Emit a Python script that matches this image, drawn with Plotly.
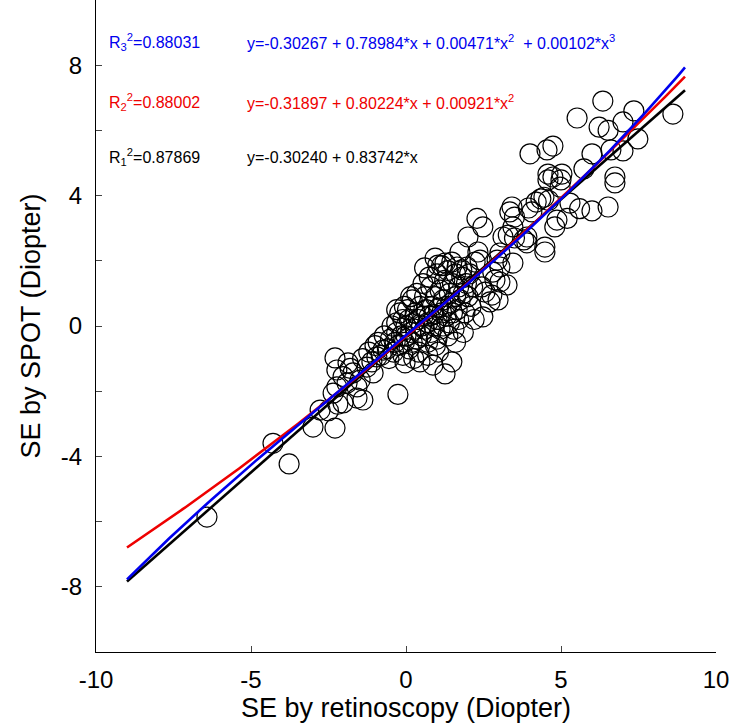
import plotly.graph_objects as go
import numpy as np

# ---- data ----
pts_upper_x = [6.35, 5.52, 7.35, 8.61, 6.23, 6.52, 7.0, 7.48, 7.0, 6.61, 6.0, 4.55, 4.74, 4.0, 5.74,
               4.58, 5.03, 4.58, 5.0, 4.74, 4.97, 6.74, 6.74, 6.0, 6.52, 5.29, 4.2, 4.45, 4.6, 4.35,
               4.06, 3.95, 3.35, 3.5, 3.42, 3.45, 3.3, 4.8, 4.87, 3.9, 3.9, 3.8, 4.48, 3.5, 3.13,
               2.29, 2.48, 2.0, 1.74, 2.32, 2.23, 2.39, 1.97, 2.94, 3.03, 3.45, 0.94, 0.6, 1.03, 1.26,
               1.48, 1.65, 1.8, 3.03, 2.8, 4.48, 3.26, 3.03, 2.97, 2.77, 2.71, 2.48, 2.45, 2.55, 2.87,
               0.87, 1.48, 1.26, 5.6, 5.2]
pts_upper_y = [6.9, 6.38, 6.6, 6.5, 6.1, 6.0, 6.26, 5.74, 5.37, 5.4, 5.28, 5.4, 5.52, 5.28, 4.82,
               4.66, 4.66, 4.48, 4.48, 4.57, 4.26, 4.57, 4.39, 3.53, 3.65, 3.77, 3.8, 3.95, 3.85, 3.9,
               3.5, 3.62, 3.5, 3.34, 3.65, 3.04, 2.79, 3.04, 3.25, 2.73, 2.55, 2.64, 2.42, 2.7, 2.73,
               3.3, 3.04, 2.73, 2.27, 2.27, 1.96, 2.02, 1.81, 2.02, 2.24, 1.93, 2.08, 1.78, 1.87, 1.93,
               1.96, 1.81, 1.72, 1.81, 1.65, 2.27, 1.26, 1.35, 0.8, 0.95, 0.74, 0.28, 1.2, 1.04, 1.41,
               -1.2, -1.1, -1.47, 3.6, 3.3]

pts_lower_x = [-0.26, -2.29, -3.0, -2.77, -4.29, -6.42, -3.77, -2.03, -1.58, -1.39, -2.35, -2.23,
               -1.9, -1.58, -2.29, -1.87, -2.23, -1.71, -1.48, -1.26, -0.94, -0.74, -1.06, -0.03,
               -2.03, -1.8, -1.4, -1.2, -1.0, -2.5, -2.2, -1.1]
pts_lower_y = [-2.1, -3.13, -3.1, -2.58, -3.6, -5.86, -4.23, -2.36, -2.21, -2.27, -2.06, -1.87,
               -1.75, -1.87, -0.98, -1.13, -1.35, -1.44, -1.66, -1.26, -0.95, -0.74, -1.44, -1.13,
               -1.55, -1.3, -1.0, -0.8, -0.6, -2.6, -2.4, -1.1]

pts_center_x = [-0.9, -0.8, -0.7, -0.6, -0.55, -0.5, -0.45, -0.4, -0.35, -0.3, -0.3, -0.25, -0.2,
                -0.15, -0.1, -0.1, -0.05, 0.0, 0.0, 0.05, 0.1, 0.1, 0.15, 0.2, 0.2, 0.25, 0.3, 0.3,
                0.35, 0.4, 0.4, 0.45, 0.5, 0.5, 0.55, 0.6, 0.6, 0.65, 0.7, 0.7, 0.75, 0.8, 0.8, 0.85,
                0.9, 0.9, 0.95, 1.0, 1.0, 1.05, 1.1, 1.1, 1.15, 1.2, 1.2, 1.25, 1.3, 1.3, 1.35, 1.4,
                1.4, 1.45, 1.5, 1.5, 1.55, 1.6, 1.6, 1.65, 1.7, 1.7, 1.75, 1.8, 1.85, 1.9, 1.95, 2.0,
                2.05, 2.1, 2.15, 2.2, 0.55, 0.35, 0.15, -0.05, -0.3, 0.75, 1.0, 1.15, 1.35, 0.45, 0.7,
                1.05, 0.25, 0.95, 1.6, 1.85]
pts_center_y = [-0.5, -0.9, -0.3, -0.7, -1.0, -0.4, 0.0, -0.8, -0.5, 0.1, -0.2, -0.6, 0.4, -0.3,
                -0.9, 0.2, -0.5, 0.0, -0.3, 0.5, -0.7, 0.2, -0.2, 0.8, -0.5, 0.1, -0.1, 0.4, -0.4,
                0.2, -0.8, 0.6, 0.0, -0.3, 0.3, 0.9, -0.1, 0.5, 0.1, -0.5, 0.3, 1.2, -0.2, 0.6, 0.0,
                0.35, 0.9, -0.4, 0.2, 0.55, 1.1, -0.1, 0.4, 0.8, 0.0, 1.4, 0.3, 0.6, -0.3, 1.0, 0.1,
                0.7, 1.3, 0.4, -0.1, 0.9, 1.6, 0.5, 1.2, 0.2, 0.8, 1.5, 1.0, 0.4, 1.3, 0.9, 1.6, 0.6,
                1.2, 0.2, 1.3, 1.0, 0.9, 0.6, 0.5, 1.5, 1.6, 1.85, 1.7, -1.1, -0.9, -0.8, -1.0, -0.6,
                -0.5, -0.2]

x_pts = pts_upper_x + pts_lower_x + pts_center_x
y_pts = pts_upper_y + pts_lower_y + pts_center_y

# fit coefficients (from the legend text)
coef_lin = [-0.30240, 0.83742]
coef_quad = [-0.31897, 0.80224, 0.00921]
coef_cub = [-0.30267, 0.78984, 0.00471, 0.00102]
fit_x_range = [-9.0, 9.0]

labels = {
    "cub": ("R<sub>3</sub><sup>2</sup>=0.88031", "y=-0.30267 + 0.78984*x + 0.00471*x<sup>2</sup>  + 0.00102*x<sup>3</sup>"),
    "quad": ("R<sub>2</sub><sup>2</sup>=0.88002", "y=-0.31897 + 0.80224*x + 0.00921*x<sup>2</sup>"),
    "lin": ("R<sub>1</sub><sup>2</sup>=0.87869", "y=-0.30240 + 0.83742*x"),
}
x_ticks = [-10, -5, 0, 5, 10]
x_ticktext = ["-10", "-5", "0", "5", "10"]
y_ticks = [-8, -4, 0, 4, 8]
y_ticktext = ["-8", "-4", "0", "4", "8"]

xt = np.linspace(fit_x_range[0], fit_x_range[1], 200)
def poly(c, x):
    return sum(ci * x ** i for i, ci in enumerate(c))

FONT = "Liberation Sans, Arial, Helvetica, sans-serif"
BLUE = "#0000ee"
RED = "#ee0000"

fig = go.Figure()
fig.add_trace(go.Scatter(x=x_pts, y=y_pts, mode="markers",
                         marker=dict(symbol="circle-open", size=20, color="black",
                                     line=dict(width=1.2, color="black")),
                         showlegend=False, hoverinfo="skip"))
fig.add_trace(go.Scatter(x=xt, y=poly(coef_lin, xt), mode="lines",
                         line=dict(color="black", width=2.6), showlegend=False))
fig.add_trace(go.Scatter(x=xt, y=poly(coef_quad, xt), mode="lines",
                         line=dict(color=RED, width=2.6), showlegend=False))
fig.add_trace(go.Scatter(x=xt, y=poly(coef_cub, xt), mode="lines",
                         line=dict(color=BLUE, width=2.6), showlegend=False))

rows = [("cub", BLUE, 8.71), ("quad", RED, 6.87), ("lin", "black", 5.18)]
for key, col, yy in rows:
    r2, eq = labels[key]
    fig.add_annotation(x=-9.65, y=yy, xref="x", yref="y", text=r2, showarrow=False,
                       xanchor="left", yanchor="middle", font=dict(size=16, color=col, family=FONT))
    fig.add_annotation(x=-5.2, y=yy, xref="x", yref="y", text=eq, showarrow=False,
                       xanchor="left", yanchor="middle", font=dict(size=16, color=col, family=FONT))

fig.update_layout(
    width=732, height=726,
    margin=dict(l=96, r=16, t=0, b=74),
    paper_bgcolor="white", plot_bgcolor="white",
    font=dict(family=FONT, size=24, color="black"),
    xaxis=dict(range=[-10, 10], tickvals=x_ticks, ticktext=x_ticktext, ticks="inside", ticklen=6,
               showline=True, linecolor="black", linewidth=1, showgrid=False, zeroline=False,
               tickfont=dict(size=24), ticklabelstandoff=6,
               title=dict(text="SE by retinoscopy (Diopter)", font=dict(size=27), standoff=3)),
    yaxis=dict(range=[-10, 10], tickvals=y_ticks, ticktext=y_ticktext, ticks="inside", ticklen=6,
               minor=dict(tickvals=[-10, -6, -2, 2, 6, 10], ticks="inside", ticklen=6, showgrid=False),
               showline=True, linecolor="black", linewidth=1, showgrid=False, zeroline=False,
               tickfont=dict(size=24), ticklabelstandoff=8,
               title=dict(text="SE by SPOT (Diopter)", font=dict(size=27), standoff=12)),
)

fig.write_html("out.html", config={"displayModeBar": False},
               post_script="document.body.style.margin='0';")
